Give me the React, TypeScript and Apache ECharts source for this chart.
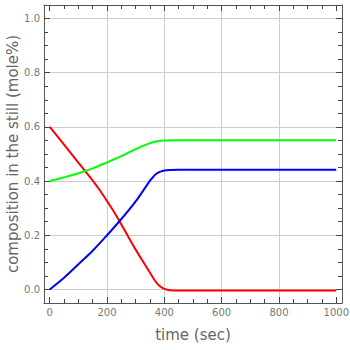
import React, { useEffect, useRef } from "react";
import * as echarts from "echarts";

const redTimes = [0, 50, 100, 150, 175, 200, 225, 250, 275, 300, 325, 350, 365, 380, 390, 400, 420, 450, 1000];
const redValues = [0.6, 0.535, 0.468, 0.402, 0.366, 0.326, 0.285, 0.24, 0.193, 0.147, 0.104, 0.062, 0.036, 0.016, 0.008, 0.002, -0.003, -0.004, -0.004];

const greenTimes = [0, 50, 100, 150, 200, 250, 300, 325, 350, 375, 400, 450, 1000];
const greenValues = [0.4, 0.414, 0.429, 0.447, 0.469, 0.492, 0.518, 0.53, 0.54, 0.547, 0.55, 0.551, 0.551];

const blueTimes = [0, 50, 100, 150, 200, 250, 300, 350, 360, 370, 380, 390, 400, 420, 450, 1000];
const blueValues = [0.0, 0.043, 0.093, 0.143, 0.2, 0.26, 0.325, 0.402, 0.414, 0.425, 0.432, 0.436, 0.439, 0.441, 0.442, 0.442];

const xMajorTicks = [0, 200, 400, 600, 800, 1000];
const xGridTicks = [200, 400, 600, 800];
const xMinorTicks = [50, 100, 150, 250, 300, 350, 450, 500, 550, 650, 700, 750, 850, 900, 950];
const yMajorTicks = [0, 0.2, 0.4, 0.6, 0.8, 1.0];
const yMinorTicks = [0.05, 0.1, 0.15, 0.25, 0.3, 0.35, 0.45, 0.5, 0.55, 0.65, 0.7, 0.75, 0.85, 0.9, 0.95];

const X_MIN = -20;
const X_MAX = 1020;
const Y_MIN = -0.05;
const Y_MAX = 1.05;

const FRAME = "#555555";
const TICK = "#444444";
const LABEL = "#777777";
const TITLE = "#666666";
const GRID = "#cccccc";
const FONT = "DejaVu Sans, sans-serif";

function pairs(ts: number[], vs: number[]) {
  return ts.map((t, i) => [t, vs[i]]);
}

function axisLineOpt(show: boolean) {
  return { show, onZero: false, lineStyle: { color: FRAME, width: 1 } };
}

function tickOpt(vals: number[], len: number) {
  return {
    show: true,
    inside: true,
    length: len,
    customValues: vals,
    lineStyle: { color: TICK, width: 1 },
  };
}

function xAxisOpt(position: string, lineShown: boolean, ticks: number[] | null, len: number, extra: any = {}) {
  return {
    type: "value",
    position,
    min: X_MIN,
    max: X_MAX,
    axisLine: axisLineOpt(lineShown),
    axisTick: ticks ? tickOpt(ticks, len) : { show: false },
    axisLabel: { show: false },
    splitLine: { show: false },
    ...extra,
  };
}

function yAxisOpt(position: string, lineShown: boolean, ticks: number[] | null, len: number, extra: any = {}) {
  return {
    type: "value",
    position,
    min: Y_MIN,
    max: Y_MAX,
    axisLine: axisLineOpt(lineShown),
    axisTick: ticks ? tickOpt(ticks, len) : { show: false },
    axisLabel: { show: false },
    splitLine: { show: false },
    ...extra,
  };
}

export default function App() {
  const ref = useRef<HTMLDivElement>(null);
  useEffect(() => {
    if (!ref.current) return;
    const chart = echarts.init(ref.current, null, { renderer: "svg" });

    chart.setOption({
      animation: false,
      backgroundColor: "#ffffff",
      grid: { left: 44, right: 8, top: 5, bottom: 47, outerBoundsMode: "none" },
      xAxis: [
        xAxisOpt("bottom", true, xMajorTicks, 6, {
          axisLabel: {
            show: true,
            customValues: xMajorTicks,
            color: LABEL,
            fontSize: 10,
            fontFamily: FONT,
            margin: 4,
            formatter: (v: number) => String(v),
          },
          name: "time (sec)",
          nameLocation: "middle",
          nameGap: 24,
          nameMoveOverlap: false,
          nameTextStyle: { color: TITLE, fontSize: 15, fontFamily: FONT },
        }),
        xAxisOpt("bottom", false, xMinorTicks, 4),
        xAxisOpt("top", true, xMajorTicks, 6),
        xAxisOpt("top", false, xMinorTicks, 4),
        xAxisOpt("bottom", false, null, 0, {
          axisTick: { show: false, customValues: xGridTicks },
          splitLine: { show: true, lineStyle: { color: GRID, width: 1 } },
        }),
      ],
      yAxis: [
        yAxisOpt("left", true, yMajorTicks, 6, {
          axisLabel: {
            show: true,
            customValues: yMajorTicks,
            color: LABEL,
            fontSize: 10,
            fontFamily: FONT,
            margin: 4,
            formatter: (v: number) => v.toFixed(1),
          },
          splitLine: { show: true, lineStyle: { color: GRID, width: 1 } },
          name: "composition in the still (mole%)",
          nameLocation: "middle",
          nameGap: 24,
          nameMoveOverlap: false,
          nameTextStyle: { color: TITLE, fontSize: 15, fontFamily: FONT },
        }),
        yAxisOpt("left", false, yMinorTicks, 4),
        yAxisOpt("right", true, yMajorTicks, 6),
        yAxisOpt("right", false, yMinorTicks, 4),
      ],
      series: [
        {
          type: "line",
          data: pairs(redTimes, redValues),
          showSymbol: false,
          smooth: 0.3,
          lineStyle: { color: "#ff0000", width: 2 },
          z: 3,
        },
        {
          type: "line",
          data: pairs(greenTimes, greenValues),
          showSymbol: false,
          smooth: 0.3,
          lineStyle: { color: "#00ff00", width: 2 },
          z: 3,
        },
        {
          type: "line",
          data: pairs(blueTimes, blueValues),
          showSymbol: false,
          smooth: 0.3,
          lineStyle: { color: "#0000ff", width: 2 },
          z: 3,
        },
      ],
    });
    return () => chart.dispose();
  }, []);
  return (
    <div
      ref={ref}
      style={{ position: "fixed", left: 0, top: 0, width: 350, height: 350 }}
    />
  );
}
